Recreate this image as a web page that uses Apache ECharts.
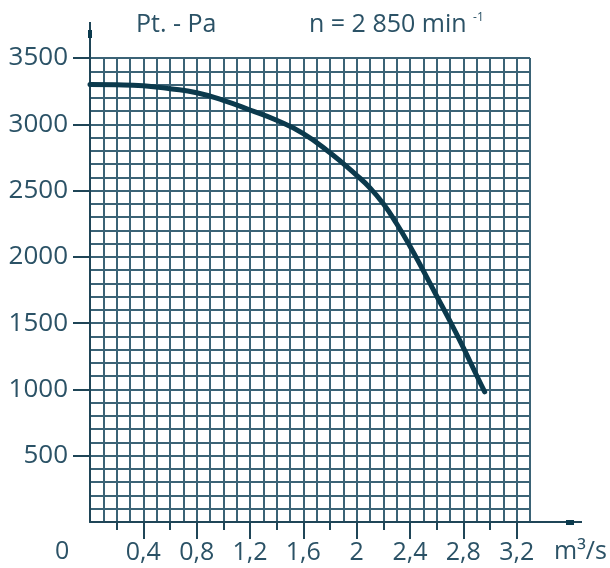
<!DOCTYPE html>
<html>
<head>
<meta charset="utf-8">
<script src="https://cdn.jsdelivr.net/npm/echarts@6/dist/echarts.min.js"></script>
<style>
html,body{margin:0;padding:0;background:#fff;}
#chart{width:610px;height:568px;}
</style>
</head>
<body>
<div id="chart"></div>
<script>
// Flow (m³/s) and total pressure (Pa)
const flow =     [0,    0.2,  0.4,  0.6,  0.8,  1.0,  1.2,  1.4,  1.6,  1.8,  2.0,  2.1,  2.2,  2.3,  2.4,  2.5,  2.6,  2.7,  2.8,  2.9,  2.96];
const pressure = [3300, 3298, 3290, 3268, 3238, 3180, 3108, 3030, 2930, 2785, 2615, 2520, 2400, 2250, 2080, 1895, 1705, 1515, 1315, 1105, 982];

const xLabelTicks = [0.4, 0.8, 1.2, 1.6, 2.0, 2.4, 2.8, 3.2];
const xMinorTicks = [0.2, 0.6, 1.0, 1.4, 1.8, 2.2, 2.6, 3.0];
const yLabelTicks = [500, 1000, 1500, 2000, 2500, 3000, 3500];

const titleLeft = 'Pt. - Pa';
const titleRight = 'n = 2 850 min ';
const titleSup = '-1';
const originLabel = '0';
const unitLabel = 'm³/s';

const GRID = '#3b6376';
const AXIS = '#1f4557';
const TEXT = '#2b5266';
const CURVE = '#0b3a4d';
const FONT = 'Open Sans';

const chart = echarts.init(document.getElementById('chart'), null, {renderer: 'canvas'});

const hiddenAxisBase = {
  axisLine: {show: false},
  splitLine: {show: false},
  axisTick: {show: false},
  axisLabel: {show: false}
};

const option = {
  animation: false,
  backgroundColor: '#ffffff',
  textStyle: {fontFamily: FONT},
  title: [
    {text: titleLeft, left: 131, top: 7,
     textStyle: {fontFamily: FONT, fontSize: 25, fontWeight: 'normal', color: TEXT}},
    {text: '{a|' + titleRight + '}{b|' + titleSup + '}', left: 304, top: 7,
     textStyle: {fontWeight: 'normal', rich: {
       a: {fontFamily: FONT, fontSize: 25, fontWeight: 'normal', color: TEXT},
       b: {fontFamily: FONT, fontSize: 12, fontWeight: 'normal', color: TEXT, verticalAlign: 'top', padding: [0, 0, 14, 0]}
     }}}
  ],
  grid: {left: 90, top: 58, width: 440, height: 464, containLabel: false},
  xAxis: [
    {type: 'value', position: 'bottom', min: 0, max: 3.3, interval: 0.1,
     axisLine: {show: true, onZero: false, lineStyle: {color: AXIS, width: 2}},
     axisTick: {show: false}, axisLabel: {show: false},
     splitLine: {show: true, lineStyle: {color: GRID, width: 2}}},
    Object.assign({}, hiddenAxisBase, {type: 'value', position: 'bottom', min: 0, max: 3.3,
     axisTick: {show: true, customValues: xLabelTicks, length: 17, lineStyle: {color: AXIS, width: 2}},
     axisLabel: {show: true, customValues: xLabelTicks, margin: 18,
       fontFamily: FONT, fontSize: 25, color: TEXT,
       formatter: v => String(+(+v).toFixed(1)).replace('.', ',')}}),
    Object.assign({}, hiddenAxisBase, {type: 'value', position: 'bottom', min: 0, max: 3.3,
     axisTick: {show: true, customValues: xMinorTicks, length: 8, lineStyle: {color: AXIS, width: 2}}})
  ],
  yAxis: [
    {type: 'value', position: 'left', min: 0, max: 3500, interval: 100,
     axisLine: {show: true, onZero: false, lineStyle: {color: AXIS, width: 2}},
     axisTick: {show: false}, axisLabel: {show: false},
     splitLine: {show: true, lineStyle: {color: GRID, width: 2}}},
    Object.assign({}, hiddenAxisBase, {type: 'value', min: 0, max: 3500, position: 'left',
     axisTick: {show: true, customValues: yLabelTicks, length: 17, lineStyle: {color: AXIS, width: 2}},
     axisLabel: {show: true, customValues: yLabelTicks, margin: 22, padding: [6, 0, 0, 0],
       fontFamily: FONT, fontSize: 26, color: TEXT, formatter: v => String(v)}})
  ],
  series: [{
    type: 'line',
    xAxisIndex: 0, yAxisIndex: 0,
    data: flow.map((q, i) => [q, pressure[i]]),
    smooth: 0.5,
    symbol: 'none',
    lineStyle: {color: CURVE, width: 5, cap: 'round'},
    z: 5
  }],
  graphic: [
    // axis extensions beyond the grid
    {type: 'line', shape: {x1: 90, y1: 58, x2: 90, y2: 22}, style: {stroke: AXIS, lineWidth: 2}},
    {type: 'rect', shape: {x: 88, y: 30, width: 4, height: 8}, style: {fill: CURVE}},
    {type: 'line', shape: {x1: 530, y1: 522, x2: 582, y2: 522}, style: {stroke: AXIS, lineWidth: 2}},
    {type: 'rect', shape: {x: 566, y: 520, width: 8, height: 5}, style: {fill: CURVE}},
    {type: 'text', left: 55, top: 539, style: {text: originLabel, font: '25px "Open Sans"', fill: TEXT}},
    {type: 'text', left: 554, top: 539, style: {text: unitLabel, font: '25px "Open Sans"', fill: TEXT}}
  ]
};
chart.setOption(option);
</script>
</body>
</html>
